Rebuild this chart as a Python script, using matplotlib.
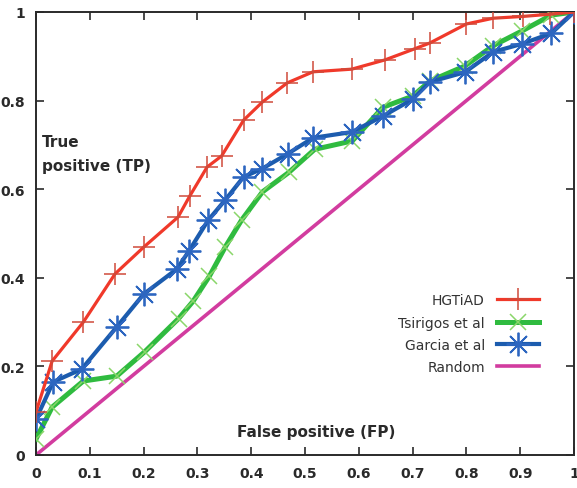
import matplotlib
matplotlib.use("agg")
import matplotlib.pyplot as plt

# ROC-like curves
hgtiad_x = [0, 0.03, 0.088, 0.147, 0.2, 0.264, 0.286, 0.318, 0.345, 0.386, 0.421,
            0.467, 0.515, 0.587, 0.649, 0.704, 0.732, 0.80, 0.85, 0.905, 0.955, 1.0]
hgtiad_y = [0.097, 0.212, 0.30, 0.409, 0.469, 0.537, 0.585, 0.65, 0.675, 0.756, 0.797,
            0.84, 0.865, 0.871, 0.892, 0.917, 0.93, 0.973, 0.986, 0.99, 0.995, 1.0]

tsirigos_x = [0, 0.03, 0.088, 0.15, 0.202, 0.265, 0.292, 0.322, 0.352, 0.382, 0.421,
              0.47, 0.518, 0.588, 0.645, 0.70, 0.732, 0.797, 0.85, 0.903, 0.958, 1.0]
tsirigos_y = [0.036, 0.108, 0.167, 0.178, 0.233, 0.308, 0.347, 0.403, 0.47, 0.53, 0.594,
              0.638, 0.69, 0.709, 0.785, 0.81, 0.844, 0.878, 0.924, 0.957, 0.993, 1.0]

garcia_x = [0, 0.032, 0.085, 0.15, 0.2, 0.262, 0.284, 0.32, 0.352, 0.386, 0.42,
            0.468, 0.515, 0.587, 0.645, 0.70, 0.732, 0.797, 0.85, 0.903, 0.958, 1.0]
garcia_y = [0.081, 0.165, 0.194, 0.289, 0.363, 0.42, 0.46, 0.53, 0.576, 0.628, 0.646,
            0.68, 0.716, 0.729, 0.765, 0.803, 0.842, 0.864, 0.91, 0.928, 0.952, 1.0]

random_x = [0, 1]
random_y = [0, 1]

x_ticks = [0, 0.1, 0.2, 0.3, 0.4, 0.5, 0.6, 0.7, 0.8, 0.9, 1]
x_tick_labels = ["0", "0.1", "0.2", "0.3", "0.4", "0.5", "0.6", "0.7", "0.8", "0.9", "1"]
y_ticks = [0, 0.2, 0.4, 0.6, 0.8, 1]
y_tick_labels = ["0", "0.2", "0.4", "0.6", "0.8", "1"]

fig = plt.figure(figsize=(5.77, 4.89), dpi=100)
ax = fig.add_axes([36 / 577, 33 / 489, 538 / 577, 443 / 489])

ax.plot(random_x, random_y, color="#d23c9f", lw=2.6, label="Random", zorder=2)
ax.plot(tsirigos_x, tsirigos_y, color="#2fbb3f", lw=3.6, marker="x", ms=12,
        mec="#8ad66a", mew=1.1, label="Tsirigos et al", zorder=3)
ax.plot(garcia_x, garcia_y, color="#1c5cae", lw=3.0, marker=(8, 2, 0), ms=17,
        mec="#2d66c0", mew=1.3, label="Garcia et al", zorder=4)
ax.plot(hgtiad_x, hgtiad_y, color="#f0392a", lw=2.3, marker="+", ms=16,
        mec="#d04a3a", mew=1.1, label="HGTiAD", zorder=5)

ax.set_xlim(0, 1)
ax.set_ylim(0, 1)
ax.set_xticks(x_ticks)
ax.set_xticklabels(x_tick_labels)
ax.set_yticks(y_ticks)
ax.set_yticklabels(y_tick_labels)
ax.tick_params(direction="in", length=6, width=1.2, top=True, right=True,
               labelsize=10, colors="#2a2a2a", pad=8)
for lab in ax.get_xticklabels() + ax.get_yticklabels():
    lab.set_fontweight("bold")
for sp in ax.spines.values():
    sp.set_linewidth(1.4)
    sp.set_color("#2a2a2a")

ax.text(0.011, 0.725, "True\npositive (TP)", fontsize=11, fontweight="bold",
        color="#2a2a2a", va="top", ha="left", linespacing=1.75)
ax.text(0.52, 0.054, "False positive (FP)", fontsize=11, fontweight="bold",
        color="#2a2a2a", va="center", ha="center")

handles, labels = ax.get_legend_handles_labels()
order = [3, 1, 2, 0]
leg = ax.legend([handles[i] for i in order], [labels[i] for i in order],
                loc="upper right", bbox_to_anchor=(0.935, 0.365), frameon=False,
                markerfirst=False, handlelength=3.0, handletextpad=0.9,
                labelspacing=0.6, borderpad=0, borderaxespad=0,
                prop={"family": "DejaVu Sans", "size": 10})
for t in leg.get_texts():
    t.set_color("#333333")

fig.savefig("out.png", dpi=100)
